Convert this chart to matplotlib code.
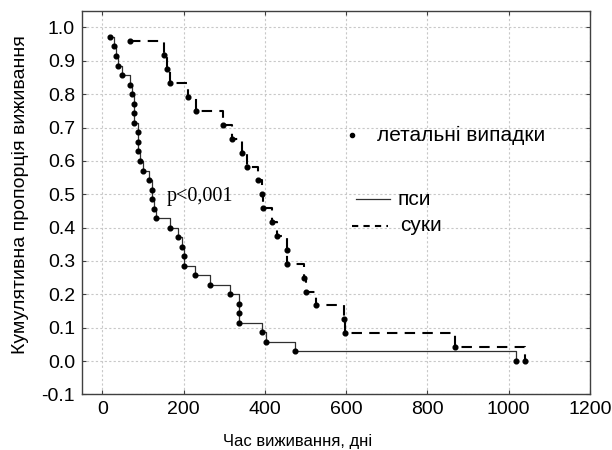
import matplotlib
matplotlib.use("Agg")
from matplotlib import pyplot as plt
from matplotlib.lines import Line2D

# survival times (days) and cumulative proportion surviving after each death
psy_days = [20, 28, 33, 38, 48, 68, 74, 77, 77, 77, 88, 88, 88, 92, 99, 114,
            123, 123, 126, 133, 166, 185, 196, 200, 200, 229, 264, 313, 337,
            337, 337, 392, 402, 475, 1019]
psy_surv = [0.971, 0.943, 0.914, 0.886, 0.857, 0.829, 0.800, 0.771, 0.743,
            0.714, 0.686, 0.657, 0.629, 0.600, 0.571, 0.543, 0.514, 0.486,
            0.457, 0.429, 0.400, 0.371, 0.343, 0.314, 0.286, 0.257, 0.229,
            0.200, 0.171, 0.143, 0.114, 0.086, 0.057, 0.029, 0.000]

suky_days = [68, 151, 158, 166, 210, 230, 298, 319, 343, 357, 382, 392, 396,
             417, 430, 455, 455, 496, 500, 525, 595, 598, 868, 1039]
suky_surv = [0.958, 0.917, 0.875, 0.833, 0.792, 0.750, 0.708, 0.667, 0.625,
             0.583, 0.542, 0.500, 0.458, 0.417, 0.375, 0.333, 0.292, 0.250,
             0.208, 0.167, 0.125, 0.083, 0.042, 0.000]

x_ticks = [0, 200, 400, 600, 800, 1000, 1200]
y_ticks = [-0.1, 0.0, 0.1, 0.2, 0.3, 0.4, 0.5, 0.6, 0.7, 0.8, 0.9, 1.0]

plt.rcParams['font.family'] = ['Liberation Sans', 'DejaVu Sans']

fig = plt.figure(figsize=(6.12, 4.5), dpi=100)
ax = fig.add_axes([0.134, 0.1236, 0.830, 0.8524])

dash = (0, (5, 3.5))
ax.plot(psy_days, psy_surv, drawstyle='steps-post', color='#303030', lw=0.9)
ax.plot(psy_days, psy_surv, linestyle='none', marker='o', ms=3.4,
        color='black')
ax.plot(suky_days, suky_surv, drawstyle='steps-post', color='black', lw=1.5,
        linestyle=dash)
ax.plot(suky_days, suky_surv, linestyle='none', marker='o', ms=3.4,
        color='black')

ax.set_xlim(-50, 1200)
ax.set_ylim(-0.1, 1.05)
ax.set_xticks(x_ticks)
ax.set_yticks(y_ticks)
ax.set_yticklabels(['%.1f' % v for v in y_ticks])
ax.tick_params(direction='in', length=3, width=0.8, labelsize=14,
               top=True, right=True, pad=5, color='#404040')
ax.grid(True, color='#c8c8c8', linestyle=(0, (2, 2)), lw=0.8)
for s in ax.spines.values():
    s.set_color('#404040')
    s.set_linewidth(1.0)

ax.set_ylabel('Кумулятивна пропорція виживання', fontsize=14)
ax.yaxis.set_label_coords(-0.105, 0.52)
fig.text(298 / 612, 0.036, 'Час виживання, дні', fontsize=12,
         ha='center', va='top')

ax.text(158, 0.48, 'p<0,001', family='Liberation Serif', fontsize=14.5,
        ha='left', va='baseline')

## Custom legend
tr = ax.transAxes
ax.add_line(Line2D([0.531], [0.676], marker='o', ms=3, color='black',
                   transform=tr))
ax.text(0.580, 0.676, 'летальні випадки', transform=tr, fontsize=15,
        va='center', ha='left')
ax.add_line(Line2D([0.539, 0.606], [0.509, 0.509], color='#303030', lw=0.9,
                   transform=tr))
ax.text(0.622, 0.509, 'пси', transform=tr, fontsize=15, va='center',
        ha='left')
ax.add_line(Line2D([0.531, 0.602], [0.439, 0.439], color='black', lw=1.5,
                   linestyle=(0, (3, 2.5)), transform=tr))
ax.text(0.626, 0.439, 'суки', transform=tr, fontsize=15, va='center',
        ha='left')

fig.savefig('out.png', dpi=100)
